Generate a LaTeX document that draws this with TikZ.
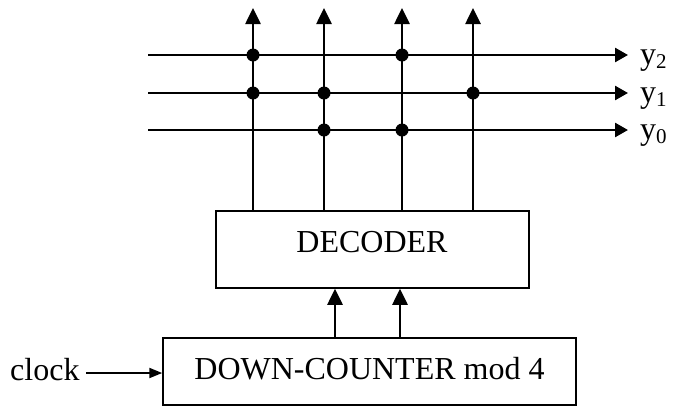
\documentclass[tikz,border=0pt]{standalone}
\usepackage{fontspec}
\setmainfont{Liberation Serif}
\usetikzlibrary{arrows.meta}
\begin{document}
\begin{tikzpicture}[x=1pt,y=-1pt,
  box/.style={draw, line width=1.5pt, inner sep=0pt},
  txt/.style={font=\fontsize{32}{38}\selectfont, inner sep=0pt},
  wire/.style={line width=2.6pt},
  uparr/.style={wire, -{Triangle[length=16pt,width=15pt]}},
  rarr/.style={wire, -{Triangle[length=13pt,width=14pt]}},
  clk/.style={line width=2pt, -{Triangle[length=13pt,width=10pt]}},
  dot/.style={circle, fill, inner sep=0pt, minimum size=13pt}]
\useasboundingbox (0,0) rectangle (677,408);
% boxes
\node[box, minimum width=313pt, minimum height=77pt] (dec) at (372.5,249.5) {};
\node[txt, anchor=base] (dect) at (372,252) {DECODER};
\node[box, minimum width=413pt, minimum height=67pt] (cnt) at (369.5,371.5) {};
\node[txt, anchor=base] (cntt) at (369.5,379.5) {DOWN-COUNTER mod 4};
% clock
\node[txt, anchor=base west] (clock) at (10,380) {clock};
\draw[clk] (86,373) -- (cnt.west |- 0,373);
% counter -> decoder
\coordinate (a1) at (335,0);
\coordinate (a2) at (400,0);
\draw[uparr] (cnt.north -| a1) -- (dec.south -| a1);
\draw[uparr] (cnt.north -| a2) -- (dec.south -| a2);
% outputs of decoder
\coordinate (t1) at (253,8);
\coordinate (t2) at (324,8);
\coordinate (t3) at (402,8);
\coordinate (t4) at (473,8);
\foreach \t in {t1,t2,t3,t4} \draw[uparr] (dec.north -| \t) -- (\t);
% horizontal lines
\coordinate (s2) at (148,55);  \coordinate (e2) at (628,55);
\coordinate (s1) at (148,93);  \coordinate (e1) at (628,93);
\coordinate (s0) at (148,130); \coordinate (e0) at (628,130);
\draw[rarr] (s2) -- (e2);
\draw[rarr] (s1) -- (e1);
\draw[rarr] (s0) -- (e0);
\node[txt, anchor=base west] (y2) at (640,64.5) {y\raisebox{-4pt}{\fontsize{21}{21}\selectfont 2}};
\node[txt, anchor=base west] (y1) at (640,102.5) {y\raisebox{-4pt}{\fontsize{21}{21}\selectfont 1}};
\node[txt, anchor=base west] (y0) at (640,139.5) {y\raisebox{-4pt}{\fontsize{21}{21}\selectfont 0}};
% dots
\node[dot] at (t1 |- s2) {};
\node[dot] at (t3 |- s2) {};
\node[dot] at (t1 |- s1) {};
\node[dot] at (t2 |- s1) {};
\node[dot] at (t4 |- s1) {};
\node[dot] at (t2 |- s0) {};
\node[dot] at (t3 |- s0) {};
\end{tikzpicture}
\end{document}
